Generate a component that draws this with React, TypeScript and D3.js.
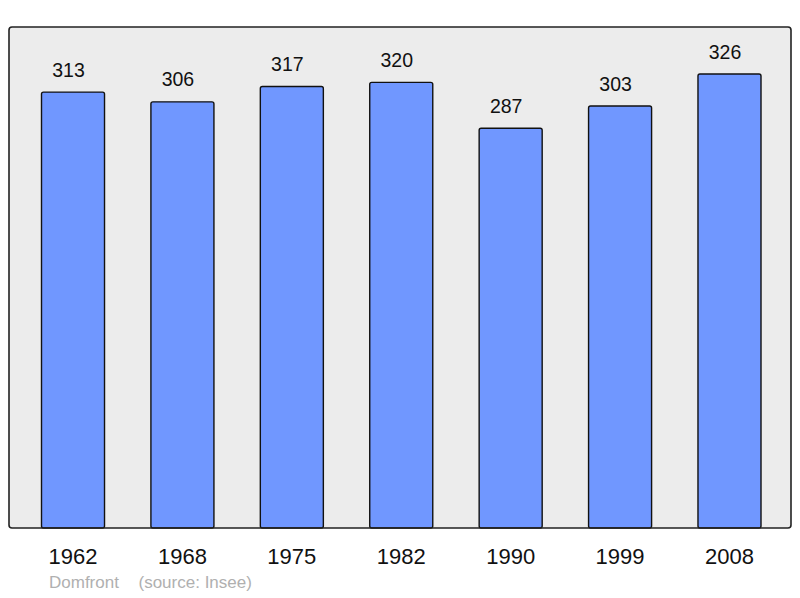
import React from 'react';
import * as d3 from 'd3';

const years = ['1962', '1968', '1975', '1982', '1990', '1999', '2008'];
const population = [313, 306, 317, 320, 287, 303, 326];
const commune = 'Domfront';
const source = '(source: Insee)';

const App = () => {
  const width = 800;
  const height = 598;
  const panel = { left: 9, top: 27, right: 791, bottom: 528 };

  // bars span from the first bar's left edge to the last bar's right edge
  const xScale = d3
    .scaleBand()
    .domain(years)
    .range([41.5, 761])
    .paddingInner(0.424)
    .paddingOuter(0);

  // 0 sits on the panel floor
  const yScale = d3.scaleLinear().domain([0, 326]).range([panel.bottom, 74]);

  const font = 'Liberation Sans, Arial, sans-serif';

  return (
    <svg
      width={width}
      height={height}
      style={{ position: 'absolute', left: 0, top: 0 }}
      fontFamily={font}
    >
      <rect width={width} height={height} fill="#fff" />
      <rect
        x={panel.left}
        y={panel.top}
        width={panel.right - panel.left}
        height={panel.bottom - panel.top}
        rx={3}
        fill="#ececec"
      />
      {years.map((yr, i) => {
        const x = xScale(yr) ?? 0;
        const y = yScale(population[i]);
        const cx = x + xScale.bandwidth() / 2;
        return (
          <g key={yr}>
            <rect
              x={x}
              y={y}
              width={xScale.bandwidth()}
              height={panel.bottom - y}
              rx={2}
              fill="#7097ff"
              stroke="#111"
              strokeWidth={1.4}
            />
            {/* value labels sit a little left of the bar centre */}
            <text
              x={cx - 4.5}
              y={y - 15.5}
              textAnchor="middle"
              fontSize={19.5}
              fill="#111"
            >
              {population[i]}
            </text>
            <text x={cx} y={564} textAnchor="middle" fontSize={22} fill="#111">
              {yr}
            </text>
          </g>
        );
      })}
      <rect
        x={panel.left}
        y={panel.top}
        width={panel.right - panel.left}
        height={panel.bottom - panel.top}
        rx={3}
        fill="none"
        stroke="#222"
        strokeWidth={1.6}
      />
      <text x={49} y={588} fontSize={17} fill="#b0b0b0">
        {commune}
      </text>
      <text x={138.5} y={588} fontSize={17} fill="#b0b0b0">
        {source}
      </text>
    </svg>
  );
};

export default App;
